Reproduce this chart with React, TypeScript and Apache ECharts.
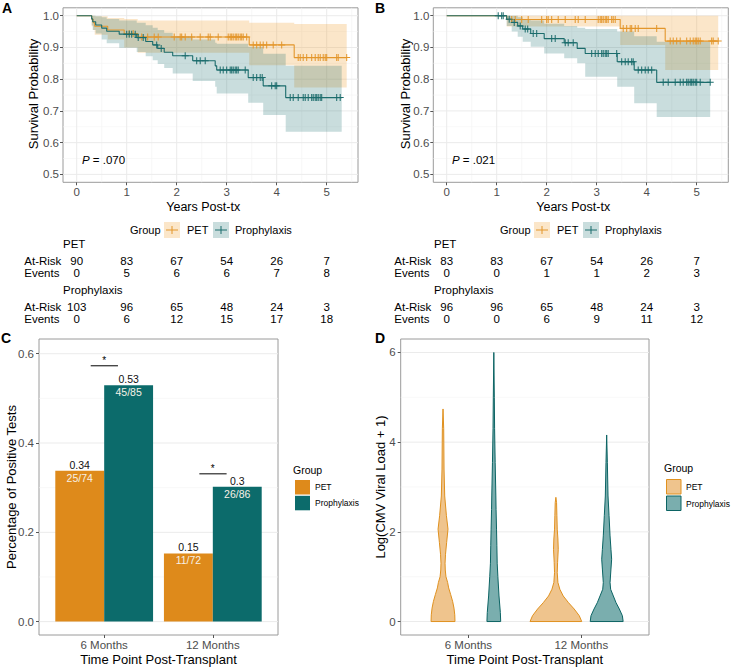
import React, { useEffect, useRef } from "react";
import * as echarts from "echarts";

const FONT = "'Liberation Sans', Arial, Helvetica, sans-serif";

// ---------- Panel A: all patients ----------
const years = [0, 1, 2, 3, 4, 5];
const aPetT = [0, 0.3, 0.33, 0.36, 0.62, 0.95, 1.22, 3.45, 4.35, 5.4];
const aPetS = [1, 0.989, 0.978, 0.967, 0.955, 0.944, 0.933, 0.908, 0.868, 0.868];
const aPetLo = [1, 0.967, 0.955, 0.94, 0.925, 0.9, 0.883, 0.844, 0.774, 0.774];
const aPetHi = [1, 1, 1, 0.998, 0.993, 0.99, 0.985, 0.978, 0.974, 0.974];
const aPetCens = [1.05, 1.13, 1.3, 1.42, 1.55, 1.63, 1.95, 2.07, 2.1, 2.17, 2.3, 2.47, 2.63, 2.67, 2.83, 3.03, 3.07, 3.1, 3.13, 3.17, 3.2, 3.23, 3.27, 3.3, 3.33, 3.4, 3.53, 3.6, 3.67, 3.73, 3.8, 3.93, 4.1, 4.43, 4.47, 4.53, 4.6, 4.7, 4.77, 4.83, 4.87, 4.93, 4.97, 5.0, 5.2, 5.23, 5.4];

const aProT = [0, 0.3, 0.32, 0.38, 0.5, 0.6, 0.85, 1.2, 1.38, 1.52, 1.62, 1.75, 1.92, 2.32, 2.77, 2.8, 3.43, 3.73, 4.18, 5.3];
const aProS = [1, 0.99, 0.981, 0.971, 0.961, 0.951, 0.942, 0.931, 0.919, 0.908, 0.897, 0.885, 0.874, 0.858, 0.842, 0.829, 0.805, 0.779, 0.742, 0.742];
const aProLo = [1, 0.97, 0.955, 0.944, 0.925, 0.913, 0.899, 0.886, 0.872, 0.86, 0.848, 0.835, 0.818, 0.794, 0.776, 0.755, 0.726, 0.687, 0.634, 0.634];
const aProHi = [1, 1, 1, 0.998, 0.995, 0.99, 0.985, 0.978, 0.97, 0.962, 0.955, 0.946, 0.935, 0.925, 0.915, 0.912, 0.902, 0.88, 0.842, 0.842];
const aProCens = [1.0, 1.05, 1.1, 1.17, 1.23, 1.33, 1.6, 1.69, 2.17, 2.4, 2.47, 2.57, 2.87, 2.93, 3.0, 3.07, 3.1, 3.13, 3.17, 3.2, 3.23, 3.37, 3.53, 3.6, 3.67, 3.71, 3.9, 3.97, 4.0, 4.27, 4.33, 4.43, 4.53, 4.57, 4.63, 4.7, 4.73, 4.77, 4.8, 4.83, 4.87, 4.9, 5.2, 5.27];

const aPetAtRisk = [90, 83, 67, 54, 26, 7];
const aPetEvents = [0, 5, 6, 6, 7, 8];
const aProAtRisk = [103, 96, 65, 48, 24, 3];
const aProEvents = [0, 6, 12, 15, 17, 18];
const aPText = ".070";

// ---------- Panel B ----------
const bPetT = [0, 1.2, 3.47, 4.37, 5.43];
const bPetS = [1, 0.988, 0.96, 0.92, 0.92];
const bPetLo = [1, 0.966, 0.908, 0.829, 0.829];
const bPetHi = [1, 1, 1, 1, 1];
const bPetCens = [1.3, 1.37, 1.5, 1.63, 1.9, 2.0, 2.03, 2.1, 2.23, 2.37, 2.57, 2.63, 2.77, 3.03, 3.07, 3.1, 3.13, 3.17, 3.2, 3.23, 3.3, 3.33, 3.37, 3.53, 3.6, 3.67, 3.7, 3.77, 3.83, 4.2, 4.47, 4.53, 4.6, 4.67, 4.8, 4.87, 4.93, 4.97, 5.0, 5.03, 5.07, 5.3, 5.33, 5.43];

const bProT = [0, 1.2, 1.3, 1.42, 1.52, 1.68, 1.95, 2.35, 2.61, 2.77, 3.41, 3.75, 4.2, 5.27];
const bProS = [1, 0.989, 0.979, 0.968, 0.958, 0.944, 0.928, 0.915, 0.897, 0.881, 0.855, 0.829, 0.79, 0.79];
const bProLo = [1, 0.968, 0.95, 0.934, 0.918, 0.902, 0.881, 0.866, 0.85, 0.808, 0.776, 0.724, 0.681, 0.681];
const bProHi = [1, 1, 1, 0.995, 0.99, 0.985, 0.975, 0.968, 0.962, 0.958, 0.95, 0.935, 0.918, 0.918];
const bProCens = [1.03, 1.1, 1.13, 1.25, 1.35, 1.47, 1.57, 1.62, 1.73, 1.8, 2.1, 2.17, 2.37, 2.43, 2.53, 2.9, 2.97, 3.03, 3.1, 3.13, 3.17, 3.2, 3.23, 3.4, 3.5, 3.57, 3.63, 3.7, 3.73, 3.83, 3.9, 3.97, 4.03, 4.1, 4.33, 4.43, 4.57, 4.67, 4.73, 4.8, 4.83, 4.87, 4.9, 4.93, 4.97, 5.0, 5.07, 5.27];

const bPetAtRisk = [83, 83, 67, 54, 26, 7];
const bPetEvents = [0, 0, 1, 1, 2, 3];
const bProAtRisk = [96, 96, 65, 48, 24, 3];
const bProEvents = [0, 0, 6, 9, 11, 12];
const bPText = ".021";

// ---------- Panel C ----------
const timePoints = ["6 Months", "12 Months"];
const petPositive = [25, 11];
const petTested = [74, 72];
const proPositive = [45, 26];
const proTested = [85, 86];
const sigY = [0.573, 0.331];
const sigLabel = ["*", "*"];

// ---------- Panel D (violin density half-widths, x units; last row = top) ----------
const vPet6 = [[0, 0.106], [0.15, 0.104], [0.3, 0.097], [0.45, 0.085], [0.6, 0.068], [0.75, 0.05], [0.87, 0.041], [1.0, 0.026], [1.15, 0.02], [1.3, 0.018], [1.5, 0.022], [1.76, 0.032], [2.06, 0.044], [2.36, 0.03], [2.8, 0.015], [3.4, 0.009], [4.0, 0.007], [4.3, 0.006], [4.74, 0]];
const vPro6 = [[0, 0.061], [0.2, 0.058], [0.57, 0.046], [1.0, 0.036], [1.3, 0.03], [1.7, 0.027], [2.06, 0.024], [2.5, 0.02], [2.8, 0.018], [3.55, 0.012], [4.3, 0.007], [5.0, 0.0045], [6.0, 0]];
const vPet12 = [[0, 0.229], [0.13, 0.207], [0.28, 0.162], [0.42, 0.112], [0.57, 0.065], [0.72, 0.035], [0.87, 0.018], [1.09, 0.012], [1.32, 0.015], [1.61, 0.021], [1.84, 0.018], [2.06, 0.012], [2.36, 0.009], [2.65, 0.006], [2.77, 0]];
const vPro12 = [[0, 0.146], [0.13, 0.139], [0.28, 0.112], [0.42, 0.083], [0.57, 0.059], [0.72, 0.035], [0.87, 0.03], [1.17, 0.038], [1.39, 0.044], [1.61, 0.038], [1.91, 0.03], [2.36, 0.021], [2.8, 0.012], [3.55, 0.006], [4.16, 0]];

// ---------- styles ----------
const OR_LINE = "#E3962B";
const TE_LINE = "#1B6C6C";
const OR_BAND = "rgba(240,155,40,0.25)";
const TE_BAND = "rgba(20,110,110,0.23)";
const OR_BAR = "#DE8A1B";
const TE_BAR = "#0C6B6B";
const OR_VIO = "rgba(224,138,27,0.5)";
const TE_VIO = "rgba(12,107,107,0.55)";
const OR_VIO_LINE = "#E0911F";
const TE_VIO_LINE = "#0C6464";
const GRID_MAJOR = "#ebebeb";
const GRID_MINOR = "#f3f3f3";
const BORDER = "#9a9a9a";
const TICK_TXT = "#4d4d4d";

const PLUS = "path://M3,0 h1 v3 h3 v1 h-3 v3 h-1 v-3 h-3 v-1 h3 z";

function stepAt(ts: number[], ss: number[], t: number) {
  let s = ss[0];
  for (let i = 0; i < ts.length; i++) if (ts[i] <= t) s = ss[i];
  return s;
}

function axis(grid: number, min: number, max: number, ticks: number[], fmt: (v: number) => string, margin: number, size: number) {
  return {
    type: "value",
    gridIndex: grid,
    min,
    max,
    axisLine: { show: false, onZero: false },
    axisTick: { show: true, length: 3, lineStyle: { color: "#555", width: 1 }, customValues: ticks },
    axisLabel: { customValues: ticks, formatter: fmt, margin, color: TICK_TXT, fontSize: size, fontFamily: FONT },
    splitLine: { show: false },
    minorSplitLine: { show: false },
  };
}

function gridLines(ai: number, vertical: boolean, values: number[], other: [number, number], color: string, width: number) {
  return {
    type: "custom",
    xAxisIndex: ai,
    yAxisIndex: ai,
    silent: true,
    z: 0,
    data: values.map((v) => (vertical ? [v, other[0]] : [other[0], v])),
    encode: { x: 0, y: 1 },
    renderItem: (params: any, api: any) => {
      const v = api.value(vertical ? 0 : 1);
      const p1 = vertical ? api.coord([v, other[0]]) : api.coord([other[0], v]);
      const p2 = vertical ? api.coord([v, other[1]]) : api.coord([other[1], v]);
      return { type: "line", shape: { x1: p1[0], y1: p1[1], x2: p2[0], y2: p2[1] }, style: { stroke: color, lineWidth: width } };
    },
  };
}

function band(ai: number, t: number[], lo: number[], hi: number[], color: string) {
  return {
    type: "custom",
    xAxisIndex: ai,
    yAxisIndex: ai,
    silent: true,
    z: 1,
    data: t.map((x, i) => [x, lo[i], hi[i]]),
    encode: { x: 0, y: [1, 2] },
    renderItem: (params: any, api: any) => {
      if (params.dataIndex !== 0) return null;
      const pts: number[][] = [];
      const n = t.length;
      for (let i = 0; i < n; i++) {
        pts.push(api.coord([t[i], hi[i]]));
        if (i < n - 1) pts.push(api.coord([t[i + 1], hi[i]]));
      }
      for (let i = n - 1; i >= 0; i--) {
        if (i < n - 1) pts.push(api.coord([t[i + 1], lo[i]]));
        pts.push(api.coord([t[i], lo[i]]));
      }
      return { type: "polygon", shape: { points: pts }, style: { fill: color } };
    },
  };
}

function kmLine(ai: number, t: number[], s: number[], color: string) {
  return {
    type: "line",
    xAxisIndex: ai,
    yAxisIndex: ai,
    step: "end",
    silent: true,
    z: 2,
    showSymbol: false,
    symbol: "none",
    data: t.map((x, i) => [x, s[i]]),
    lineStyle: { color, width: 1.1 },
  };
}

function censors(ai: number, cens: number[], t: number[], s: number[], color: string) {
  return {
    type: "scatter",
    xAxisIndex: ai,
    yAxisIndex: ai,
    silent: true,
    z: 3,
    symbol: PLUS,
    symbolSize: 7,
    data: cens.map((c) => [c, stepAt(t, s, c)]),
    itemStyle: { color, opacity: 1 },
  };
}

function bars(ai: number, pos: number[], n: number[], offset: number, color: string) {
  return {
    type: "custom",
    xAxisIndex: ai,
    yAxisIndex: ai,
    silent: true,
    z: 2,
    data: pos.map((p, i) => [i + 1, p / n[i], p, n[i]]),
    encode: { x: 0, y: 1 },
    renderItem: (params: any, api: any) => {
      const x = api.value(0);
      const v = api.value(1);
      const p = api.value(2);
      const nn = api.value(3);
      const tl = api.coord([x + offset - 0.225, v]);
      const br = api.coord([x + offset + 0.225, 0]);
      const cx = (tl[0] + br[0]) / 2;
      return {
        type: "group",
        children: [
          { type: "rect", shape: { x: tl[0], y: tl[1], width: br[0] - tl[0], height: br[1] - tl[1] }, style: { fill: color } },
          { type: "text", style: { text: String(Number(v.toFixed(2))), x: cx, y: tl[1] - 6, fill: "#111", font: `10.5px ${FONT}`, align: "center", verticalAlign: "middle", textAlign: "center", textVerticalAlign: "middle" } },
          { type: "text", style: { text: `${p}/${nn}`, x: cx, y: tl[1] + 7, fill: "#f7f1e6", font: `10.5px ${FONT}`, align: "center", verticalAlign: "middle", textAlign: "center", textVerticalAlign: "middle" } },
        ],
      };
    },
  };
}

function sigSeries(ai: number) {
  return {
    type: "custom",
    xAxisIndex: ai,
    yAxisIndex: ai,
    silent: true,
    z: 3,
    data: sigY.map((y, i) => [i + 1, y]),
    encode: { x: 0, y: 1 },
    renderItem: (params: any, api: any) => {
      const x = api.value(0);
      const y = api.value(1);
      const a = api.coord([x - 0.124, y]);
      const b = api.coord([x + 0.127, y]);
      const c = api.coord([x, y]);
      return {
        type: "group",
        children: [
          { type: "line", shape: { x1: a[0], y1: a[1], x2: b[0], y2: b[1] }, style: { stroke: "#000", lineWidth: 1 } },
          { type: "text", style: { text: sigLabel[params.dataIndex], x: c[0], y: c[1] - 5, fill: "#000", font: `10px ${FONT}`, align: "center", verticalAlign: "middle", textAlign: "center", textVerticalAlign: "middle" } },
        ],
      };
    },
  };
}

function violins(ai: number, profiles: number[][][], offset: number, fill: string, stroke: string) {
  return {
    type: "custom",
    xAxisIndex: ai,
    yAxisIndex: ai,
    silent: true,
    z: 2,
    data: profiles.map((p, i) => [i + 1, p[p.length - 1][0]]),
    encode: { x: 0, y: 1 },
    renderItem: (params: any, api: any) => {
      const x = api.value(0) + offset;
      const prof = profiles[params.dataIndex];
      const n = prof.length;
      const pts: number[][] = [];
      for (let i = 0; i < n; i++) pts.push(api.coord([x + prof[i][1], prof[i][0]]));
      for (let i = n - 2; i >= 0; i--) pts.push(api.coord([x - prof[i][1], prof[i][0]]));
      return { type: "polygon", shape: { points: pts }, style: { fill, stroke, lineWidth: 1, lineJoin: "round" } };
    },
  };
}

function txt(text: string, x: number, y: number, size: number, opts: any = {}) {
  return {
    type: "text",
    x,
    y,
    rotation: opts.rot || 0,
    silent: true,
    z: 10,
    style: {
      text,
      x: 0,
      y: 0,
      fill: opts.fill || "#000",
      font: `${opts.italic ? "italic " : ""}${opts.bold ? "bold " : ""}${size}px ${FONT}`,
      align: opts.align || "left",
      verticalAlign: "middle",
      textAlign: opts.align || "left",
      textVerticalAlign: "middle",
    },
  };
}

function kmKey(x: number, y: number, fill: string, line: string) {
  return {
    type: "group",
    x,
    y,
    silent: true,
    children: [
      { type: "rect", shape: { x: 0, y: 0, width: 16, height: 16 }, style: { fill } },
      { type: "line", shape: { x1: 2, y1: 8, x2: 14, y2: 8 }, style: { stroke: line, lineWidth: 1 } },
      { type: "line", shape: { x1: 8, y1: 4, x2: 8, y2: 12 }, style: { stroke: line, lineWidth: 1 } },
    ],
  };
}

function buildOption() {
  const yKM = [0.5, 0.6, 0.7, 0.8, 0.9, 1.0];
  const yKMminor = [0.55, 0.65, 0.75, 0.85, 0.95];
  const xKMminor = [0.5, 1.5, 2.5, 3.5, 4.5, 5.5];
  const aX: [number, number] = [-0.274, 5.626];
  const bX: [number, number] = [-0.268, 5.632];
  const kmY: [number, number] = [0.475, 1.025];
  const cY: [number, number] = [-0.03, 0.633];
  const dY: [number, number] = [-0.3, 6.3];
  const catX: [number, number] = [0.4, 2.6];
  const gridStyle = { show: true, borderColor: BORDER, borderWidth: 1, backgroundColor: "#fff" };
  return {
    animation: false,
    backgroundColor: "#fff",
    grid: [
      { left: 63, top: 7.8, width: 295, height: 174.5, ...gridStyle },
      { left: 433.3, top: 7.8, width: 295, height: 174.5, ...gridStyle },
      { left: 39, top: 339, width: 239, height: 296, ...gridStyle },
      { left: 400.7, top: 339, width: 248.3, height: 296, ...gridStyle },
    ],
    xAxis: [
      axis(0, aX[0], aX[1], years, (v) => String(v), 4, 11.5),
      axis(1, bX[0], bX[1], years, (v) => String(v), 4, 11.5),
      axis(2, catX[0], catX[1], [1, 2], (v) => timePoints[Math.round(v) - 1], 4, 11.5),
      axis(3, catX[0], catX[1], [1, 2], (v) => timePoints[Math.round(v) - 1], 4, 11.5),
    ],
    yAxis: [
      axis(0, kmY[0], kmY[1], yKM, (v) => v.toFixed(1), 4, 11.5),
      axis(1, kmY[0], kmY[1], yKM, (v) => v.toFixed(1), 4, 11.5),
      axis(2, cY[0], cY[1], [0, 0.2, 0.4, 0.6], (v) => v.toFixed(1), 5, 11.5),
      axis(3, dY[0], dY[1], [0, 2, 4, 6], (v) => String(v), 5, 11.5),
    ],
    series: [
      // A
      gridLines(0, true, xKMminor, kmY, GRID_MINOR, 0.6),
      gridLines(0, false, yKMminor, aX, GRID_MINOR, 0.6),
      gridLines(0, true, years, kmY, GRID_MAJOR, 1),
      gridLines(0, false, yKM, aX, GRID_MAJOR, 1),
      band(0, aPetT, aPetLo, aPetHi, OR_BAND),
      band(0, aProT, aProLo, aProHi, TE_BAND),
      kmLine(0, aPetT, aPetS, OR_LINE),
      kmLine(0, aProT, aProS, TE_LINE),
      censors(0, aPetCens, aPetT, aPetS, OR_LINE),
      censors(0, aProCens, aProT, aProS, TE_LINE),
      // B
      gridLines(1, true, xKMminor, kmY, GRID_MINOR, 0.6),
      gridLines(1, false, yKMminor, bX, GRID_MINOR, 0.6),
      gridLines(1, true, years, kmY, GRID_MAJOR, 1),
      gridLines(1, false, yKM, bX, GRID_MAJOR, 1),
      band(1, bPetT, bPetLo, bPetHi, OR_BAND),
      band(1, bProT, bProLo, bProHi, TE_BAND),
      kmLine(1, bPetT, bPetS, OR_LINE),
      kmLine(1, bProT, bProS, TE_LINE),
      censors(1, bPetCens, bPetT, bPetS, OR_LINE),
      censors(1, bProCens, bProT, bProS, TE_LINE),
      // C
      gridLines(2, false, [0.1, 0.3, 0.5], catX, GRID_MINOR, 0.6),
      gridLines(2, false, [0, 0.2, 0.4, 0.6], catX, GRID_MAJOR, 1),
      bars(2, petPositive, petTested, -0.225, OR_BAR),
      bars(2, proPositive, proTested, 0.225, TE_BAR),
      sigSeries(2),
      // D
      gridLines(3, false, [1, 3, 5], catX, GRID_MINOR, 0.6),
      gridLines(3, false, [0, 2, 4, 6], catX, GRID_MAJOR, 1),
      violins(3, [vPet6, vPet12], -0.225, OR_VIO, OR_VIO_LINE),
      violins(3, [vPro6, vPro12], 0.225, TE_VIO, TE_VIO_LINE),
    ],
  };
}

function buildGraphic(chart: any) {
  const els: any[] = [];
  els.push(txt("A", 2, 7.5, 14, { bold: true }));
  els.push(txt("B", 375, 7.5, 14, { bold: true }));
  els.push(txt("C", 1, 338, 14, { bold: true }));
  els.push(txt("D", 375, 338, 14, { bold: true }));

  const kmPanels = [
    { ai: 0, yTitleX: 33.7, rowLabelX: 24.3, groupX: 63, shift: 0, p: aPText, pX: 82, petR: aPetAtRisk, petE: aPetEvents, proR: aProAtRisk, proE: aProEvents },
    { ai: 1, yTitleX: 405.5, rowLabelX: 394.3, groupX: 434, shift: 370, p: bPText, pX: 452, petR: bPetAtRisk, petE: bPetEvents, proR: bProAtRisk, proE: bProEvents },
  ];
  for (const k of kmPanels) {
    const cx = chart.convertToPixel({ xAxisIndex: k.ai }, 2.5);
    els.push(txt("Survival Probability", k.yTitleX, 94, 13, { rot: Math.PI / 2, align: "center" }));
    els.push(txt("Years Post-tx", cx + 1.5, 207, 12.5, { align: "center" }));
    els.push({
      type: "text",
      x: k.pX,
      y: 160,
      silent: true,
      z: 10,
      style: {
        text: `{i|P} = ${k.p}`,
        font: `11.5px ${FONT}`,
        fill: "#000",
        verticalAlign: "middle",
        textVerticalAlign: "middle",
        rich: { i: { fontStyle: "italic", fontSize: 11.5, fontFamily: FONT, fill: "#000" } },
      },
    });
    els.push(txt("Group", 130 + k.shift, 230, 11));
    els.push(kmKey(164 + k.shift, 222, OR_BAND, OR_LINE));
    els.push(txt("PET", 187 + k.shift, 230, 11));
    els.push(kmKey(213 + k.shift, 222, TE_BAND, TE_LINE));
    els.push(txt("Prophylaxis", 235 + k.shift, 230, 11));
    els.push(txt("PET", k.groupX, 244.3, 11.5));
    els.push(txt("At-Risk", k.rowLabelX, 261, 11.5));
    els.push(txt("Events", k.rowLabelX, 273.3, 11.5));
    els.push(txt("Prophylaxis", k.groupX, 290, 11.5));
    els.push(txt("At-Risk", k.rowLabelX, 306.7, 11.5));
    els.push(txt("Events", k.rowLabelX, 319.3, 11.5));
    years.forEach((yr, i) => {
      const x = chart.convertToPixel({ xAxisIndex: k.ai }, yr);
      els.push(txt(String(k.petR[i]), x, 261, 11.5, { align: "center" }));
      els.push(txt(String(k.petE[i]), x, 273.3, 11.5, { align: "center" }));
      els.push(txt(String(k.proR[i]), x, 306.7, 11.5, { align: "center" }));
      els.push(txt(String(k.proE[i]), x, 319.3, 11.5, { align: "center" }));
    });
  }

  els.push(txt("Percentage of Positive Tests", 11, 487, 13, { rot: Math.PI / 2, align: "center" }));
  els.push(txt("Time Point Post-Transplant", chart.convertToPixel({ xAxisIndex: 2 }, 1.5), 659, 13, { align: "center" }));
  els.push(txt("Group", 293, 470, 10.5));
  els.push({ type: "rect", shape: { x: 295, y: 480, width: 15, height: 14.5 }, style: { fill: OR_BAR }, silent: true });
  els.push({ type: "rect", shape: { x: 295, y: 495.8, width: 15, height: 14.5 }, style: { fill: TE_BAR }, silent: true });
  els.push(txt("PET", 315, 487.3, 8.5));
  els.push(txt("Prophylaxis", 315, 503, 8.5));

  els.push(txt("Log(CMV Viral Load + 1)", 380, 487, 13, { rot: Math.PI / 2, align: "center" }));
  els.push(txt("Time Point Post-Transplant", chart.convertToPixel({ xAxisIndex: 3 }, 1.5), 659, 13, { align: "center" }));
  els.push(txt("Group", 664, 468, 10.5));
  els.push({ type: "rect", shape: { x: 666.5, y: 479.5, width: 14.5, height: 14.5 }, style: { fill: OR_VIO, stroke: OR_VIO_LINE, lineWidth: 1 }, silent: true });
  els.push({ type: "rect", shape: { x: 666.5, y: 496, width: 14.5, height: 14.5 }, style: { fill: TE_VIO, stroke: TE_VIO_LINE, lineWidth: 1 }, silent: true });
  els.push(txt("PET", 686, 487, 8.5));
  els.push(txt("Prophylaxis", 686, 503.5, 8.5));
  return els;
}

export default function App() {
  const ref = useRef<HTMLDivElement>(null);
  useEffect(() => {
    if (!ref.current) return;
    const chart = echarts.init(ref.current, null, { renderer: "svg" });
    chart.setOption(buildOption() as any);
    chart.setOption({ graphic: { elements: buildGraphic(chart) } } as any);
    return () => chart.dispose();
  }, []);
  return (
    <div
      ref={ref}
      style={{ position: "fixed", left: 0, top: 0, width: 731, height: 667, background: "#fff" }}
    />
  );
}
